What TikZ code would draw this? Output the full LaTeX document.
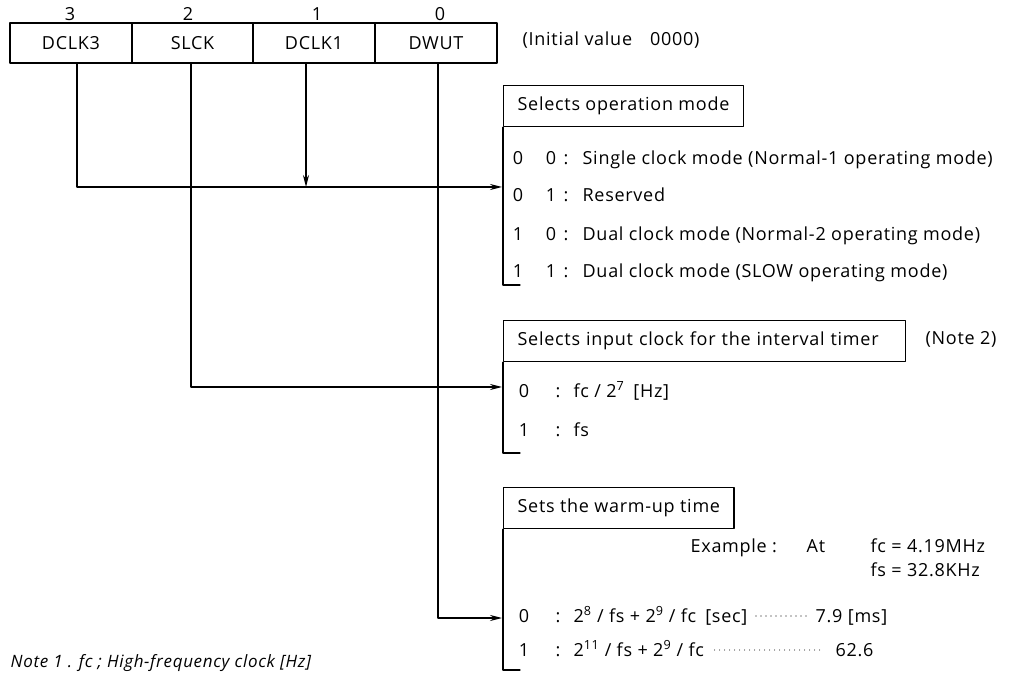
\documentclass[tikz,border=0pt]{standalone}
\usepackage{fontspec}
\setmainfont{Open Sans}[LetterSpace=4]
\usetikzlibrary{arrows.meta}
\begin{document}
\begin{tikzpicture}[x=1pt, y=-1pt, >={Stealth[length=12pt, width=6pt]}, line width=1.3pt, line cap=round, line join=round,
  font=\fontsize{18}{20}\selectfont,
  field/.style={draw, minimum height=40pt, inner sep=0pt},
  hdr/.style={draw, anchor=north west, minimum height=41pt, inner xsep=14pt, text height=12pt, text depth=3.5pt},
  txt/.style={inner sep=0pt, text height=12pt, text depth=3.5pt},
  leader/.style={line width=1.1pt, dash pattern=on 0pt off 5pt}]
\useasboundingbox (0,0) rectangle (1021,676);
\foreach \x/\w/\n/\t in {71/122/dclk3/DCLK3, 192.5/121/slck/SLCK, 314/122/dclk1/DCLK1, 436/122/dwut/DWUT}
  \node[field, minimum width=\w pt] (\n) at (\x,43) {\t};
\foreach \x/\b in {70/3, 188/2, 317/1, 440/0}
  \node[txt] (bit\b) at (\x,16.5) {\b};
\node[txt, anchor=west] (init) at (522,41) {(Initial value\quad 0000)};
\node[hdr] (mode) at (503,85) {Selects operation mode};
\node[hdr, text width=374pt, align=left] (iclk) at (503,320) {Selects input clock for the interval timer};
\node[txt, anchor=west] (note2) at (925,340) {(Note 2)};
\node[hdr] (wup) at (503,487) {Sets the warm-up time};
\draw (mode.south west) -- (503,285) -- (520,285);
\draw (iclk.south west) -- (503,453) -- (520,453);
\draw (wup.south west) -- (503,670) -- (520,670);
\coordinate (in1) at (502,187);
\coordinate (in2) at (502,387);
\coordinate (in3) at (502,618);
\draw[->] ([xshift=6pt]dclk3.south) |- (in1);
\draw[->] ([xshift=-8pt]dclk1.south) -- ([xshift=-8pt]dclk1.south |- in1);
\draw[->] ([xshift=-1.5pt]slck.south) |- (in2);
\draw[->] ([xshift=2pt]dwut.south) |- (in3);
\foreach \y/\a/\b/\t [count=\i] in {160/0/0/Single clock mode (Normal-1 operating mode),
    197/0/1/Reserved, 236/1/0/Dual clock mode (Normal-2 operating mode),
    273/1/1/Dual clock mode (SLOW operating mode)}
  {\node[txt] (ma\i) at (518,\y) {\a};
   \node[txt] (mb\i) at (551,\y) {\b};
   \node[txt] (mc\i) at (566,\y) {:};
   \node[txt, anchor=west] (md\i) at (582,\y) {\t};}
\node[txt] (c0a) at (524,393) {0};
\node[txt] (c0b) at (558,393) {:};
\node[txt, anchor=west] (c0c) at (573,393) {fc / 2\textsuperscript{7}\enspace[Hz]};
\node[txt] (c1a) at (524,432) {1};
\node[txt] (c1b) at (558,432) {:};
\node[txt, anchor=west] (c1c) at (573,432) {fs};
\node[txt, anchor=west] (ex) at (690,548) {Example :};
\node[txt, anchor=west] (at) at (806,548) {At};
\node[txt, anchor=west] (fc) at (870,548) {fc = 4.19MHz};
\node[txt, anchor=west] (fs) at (870,572) {fs = 32.8KHz};
\node[txt] (w0a) at (524,618) {0};
\node[txt] (w0b) at (558,618) {:};
\node[txt, anchor=west] (w0c) at (573,618) {2\textsuperscript{8} / fs + 2\textsuperscript{9} / fc\enspace[sec]};
\node[txt, anchor=west] (w0d) at (815,618) {7.9 [ms]};
\node[txt] (w1a) at (524,652) {1};
\node[txt] (w1b) at (558,652) {:};
\node[txt, anchor=west] (w1c) at (573,652) {2\textsuperscript{11} / fs + 2\textsuperscript{9} / fc};
\node[txt, anchor=west] (w1d) at (835,652) {62.6};
\draw[leader] ([xshift=8pt,yshift=2pt]w0c.east) -- ([xshift=-8pt,yshift=2pt]w0d.west);
\draw[leader] ([xshift=10pt,yshift=2pt]w1c.east) -- ([xshift=-14pt,yshift=2pt]w1d.west);
\node[txt, anchor=west, font=\fontsize{17}{20}\selectfont\itshape] (note1) at (10,663) {Note 1 . fc ; High-frequency clock [Hz]};
\end{tikzpicture}
\end{document}
